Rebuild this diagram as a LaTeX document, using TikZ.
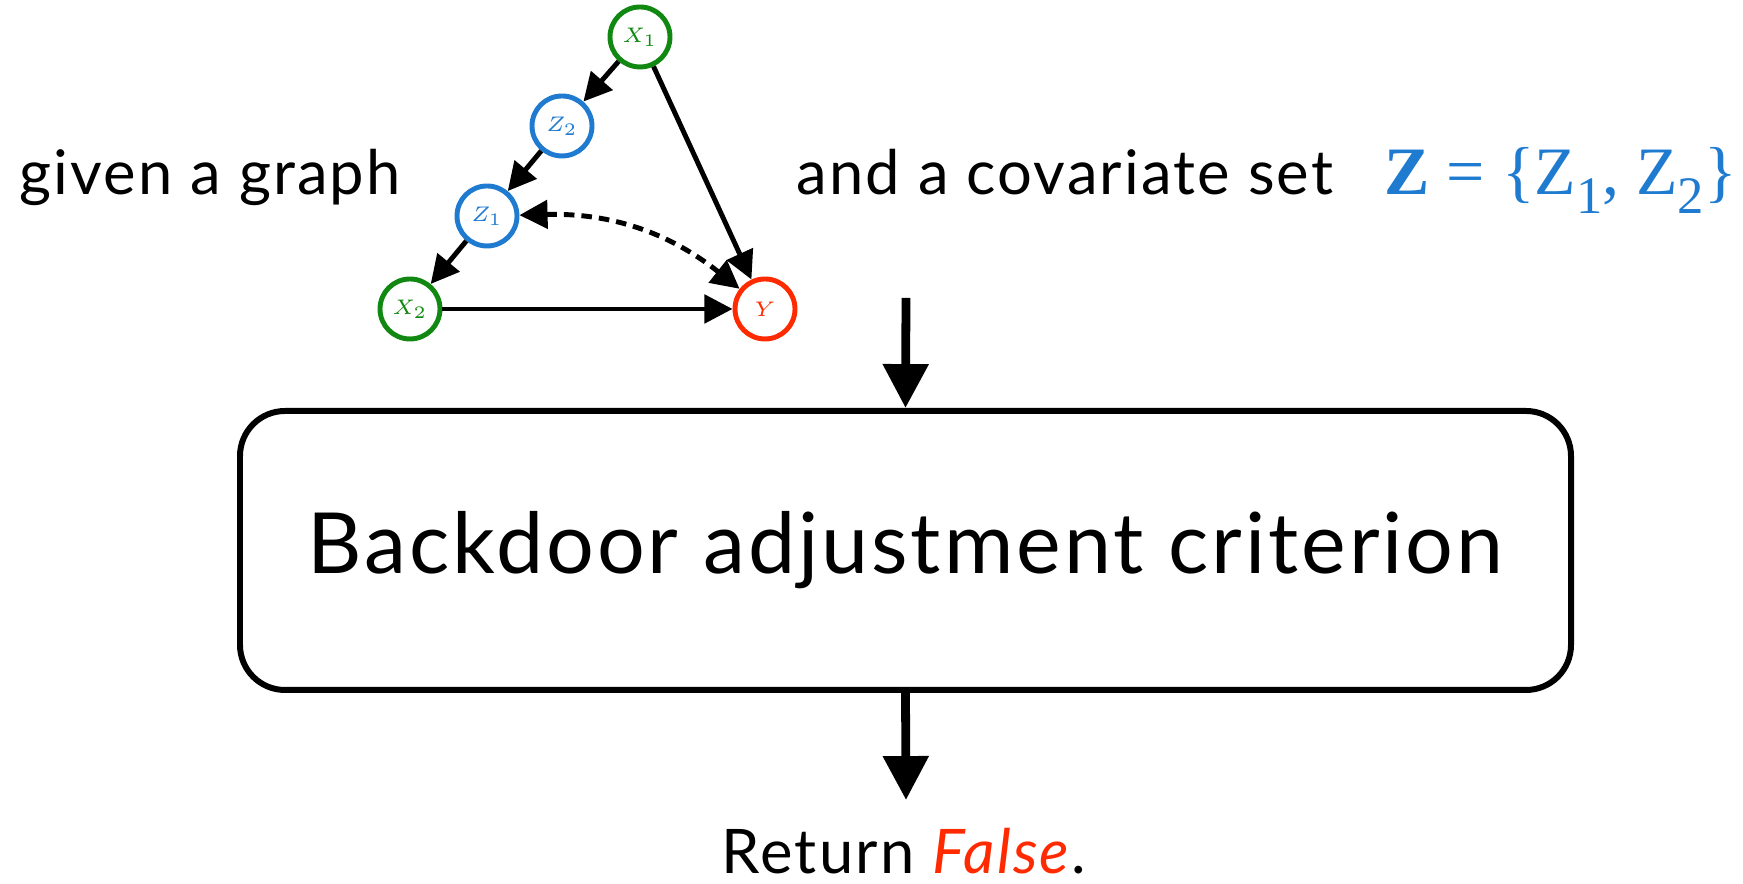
\documentclass[tikz,border=0pt]{standalone}
\usepackage{fontspec}
\setmainfont{Lato}[LetterSpace=3.5]
\newfontfamily\timesfont{Liberation Serif}
\usetikzlibrary{arrows.meta}
\definecolor{vgreen}{RGB}{17,136,17}
\definecolor{zblue}{RGB}{31,123,208}
\definecolor{yred}{RGB}{255,42,0}

\newcommand{\lowsub}[1]{\raisebox{-0.28em}{\fontsize{15}{16}\selectfont #1}}

\tikzset{
  >={Triangle[length=8pt,width=8pt]},
  var/.style={circle, draw, line width=1.4pt, minimum size=0.6cm, inner sep=0pt, font=\fontsize{6.3}{7}\selectfont},
  edge/.style={line width=1.4pt, ->},
  bigarrow/.style={line width=2.5pt, -{Triangle[length=12.5pt,width=12.5pt]}},
  words/.style={inner sep=0pt, font=\fontsize{17.5}{20}\selectfont}
}

\begin{document}
\begin{tikzpicture}
\useasboundingbox (0,0) rectangle (17.43,8.84);

% the graph
\node [var, vgreen] (x1) at (6.40,8.47) {$X_1$};
\node [var, zblue] (z2) at (5.62,7.58) {$Z_2$};
\node [var, zblue] (z1) at (4.87,6.68) {$Z_1$};
\node [var, vgreen] (x2) at (4.10,5.75) {$X_2$};
\node [var, yred] (y) at (7.65,5.75) {$Y$};

\draw [edge] (x1) -- (z2);
\draw [edge] (z2) -- (z1);
\draw [edge] (z1) -- (x2);
\draw [edge] (x1) -- (y);
\draw [edge] (x2) -- (y);
\draw [edge, <->, dash pattern=on 3pt off 2pt] (z1) to [bend left=20] (y);

% texts
\node [words, anchor=base west] (given) at (0.19,6.89) {given a graph};
\node [words, anchor=base west] (cov) at (7.96,6.89) {and a covariate set};
\node [inner sep=0pt, anchor=base west, zblue, font=\timesfont\fontsize{19.3}{22}\selectfont] (zset) at (13.84,6.89)
  {\textbf{Z} = \{Z\lowsub{1}, Z\lowsub{2}\}};

% criterion box
\node [draw, line width=1.7pt, rounded corners=0.45cm, minimum width=13.31cm, minimum height=2.79cm,
  font=\fontsize{24}{28}\selectfont] (crit) at (9.055,3.335) {Backdoor adjustment criterion};

\coordinate (intop) at (9.06,5.86);
\coordinate (outbot) at (9.06,0.84);
\draw [bigarrow] (intop) -- (crit.north);
\draw [bigarrow] (crit.south) -- (outbot);

\node [words, anchor=base] (ret) at (9.04,0.1) {Return \textcolor{yred}{\textit{False}}.};

\end{tikzpicture}
\end{document}
